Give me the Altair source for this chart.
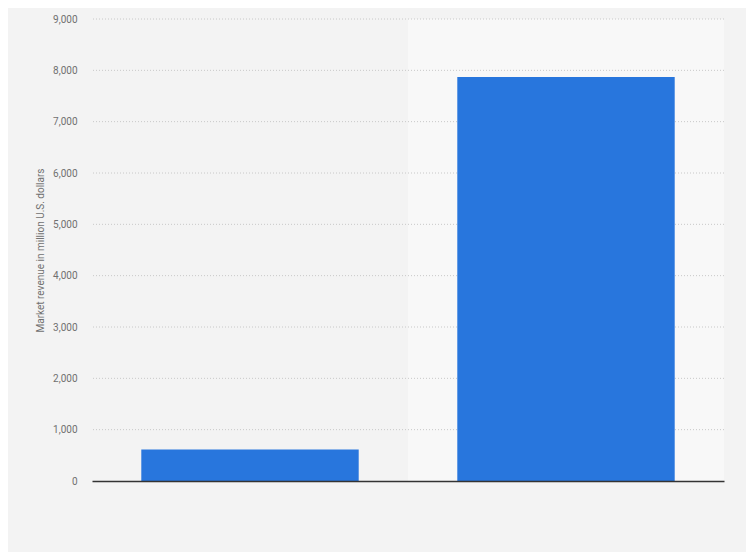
import altair as alt
import pandas as pd

categories = ["A", "B"]
revenue = [612, 7870]
tick_values = [0, 1000, 2000, 3000, 4000, 5000, 6000, 7000, 8000, 9000]

df = pd.DataFrame({"category": categories, "revenue": revenue})
bg = pd.DataFrame({"category": ["B"], "top": [9000]})
grid_df = pd.DataFrame({"v": tick_values[1:]})

x_scale = alt.Scale(domain=categories, paddingInner=0, paddingOuter=0)
y_scale = alt.Scale(domain=[0, 9000], nice=False)

x_axis = alt.Axis(labels=False, ticks=False, title=None, domain=True,
                  domainColor="#333333", domainWidth=1.5, grid=False)
y_axis = alt.Axis(
    values=tick_values,
    format=",.0f",
    title="Market revenue in million U.S. dollars",
    titleFontSize=10,
    titleFontWeight="normal",
    titleColor="#707070",
    titleFont="Roboto",
    titlePadding=7,
    labelFontSize=10,
    labelColor="#707070",
    labelFont="Roboto",
    labelPadding=15,
    ticks=False,
    domain=False,
    grid=False,
)

band = alt.Chart(bg).mark_rect(color="#f8f8f8").encode(
    x=alt.X("category:N", scale=x_scale, axis=x_axis),
    y=alt.Y("top:Q", scale=y_scale, axis=y_axis),
    y2=alt.datum(0),
)

grid = alt.Chart(grid_df).mark_rule(
    color="#c8c8c8", strokeDash=[1, 2], strokeWidth=1
).encode(
    y=alt.Y("v:Q", scale=y_scale, axis=y_axis),
)

bars = alt.Chart(df).mark_bar(
    color="#2876dd", width=alt.RelativeBandSize(0.688)
).encode(
    x=alt.X("category:N", scale=x_scale, axis=x_axis),
    y=alt.Y("revenue:Q", scale=y_scale, axis=y_axis),
)

chart = alt.layer(band, grid, bars).properties(
    width=632,
    height=462,
    autosize=alt.AutoSizeParams(type="none"),
    padding={"left": 84, "top": 11, "right": 22, "bottom": 71},
    background="#f3f3f3",
).configure_view(stroke=None)

chart.save("out.html", embed_options={"renderer": "svg", "actions": False})
